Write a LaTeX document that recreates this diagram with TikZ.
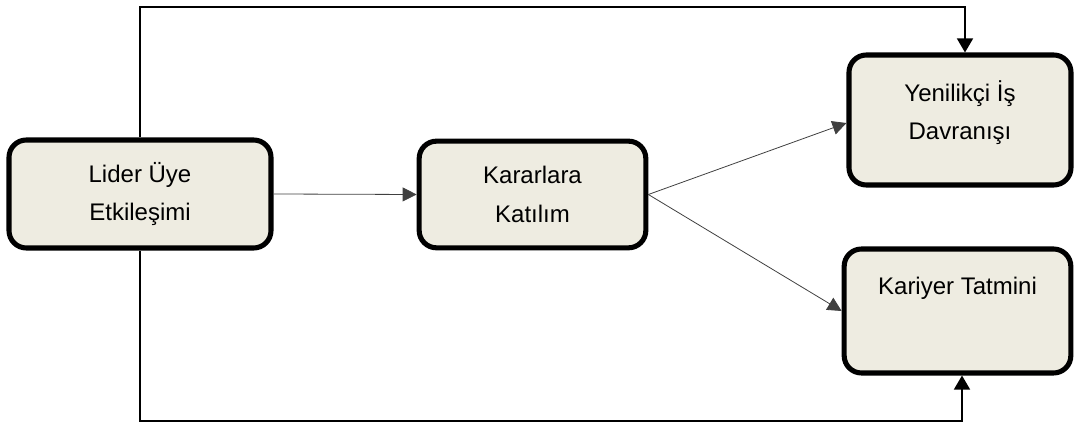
\documentclass[tikz,border=0pt]{standalone}
\usepackage{fontspec}
\setmainfont{Liberation Sans}
\usepackage{xcolor}
\usetikzlibrary{arrows.meta, positioning, calc}
\definecolor{boxtan}{HTML}{EEECE1}
\definecolor{lineGray}{HTML}{404040}

\begin{document}
\begin{tikzpicture}[
  x=0.75pt, y=-0.75pt,
  factor/.style={rectangle, draw=black, line width=3.8pt, fill=boxtan, rounded corners=13pt, align=center, font=\fontsize{18}{29}\selectfont, inner sep=0pt},
  link/.style={-{Triangle[length=10.5pt, width=12pt]}, line width=1.1pt, draw=black},
  thinlink/.style={-{Triangle[length=10.5pt, width=10.5pt]}, line width=0.6pt, draw=lineGray}
]
  \useasboundingbox (0,0) rectangle (1075,423);

  \node[factor, minimum width=196.5pt, minimum height=81pt] (lider) at (140,194) {Lider Üye\\Etkileşimi};
  \node[factor, minimum width=170pt, minimum height=80pt] (karar) at (532.5,194.5) {Kararlara\\Katılım};
  \node[factor, minimum width=166.5pt, minimum height=97.5pt, text depth=15pt] (yenilik) at (960,120) {Yenilikçi İş\\Davranışı};
  \node[factor, minimum width=170pt, minimum height=93pt, text height=13pt, text depth=37pt] (kariyer) at (957.5,311) {Kariyer Tatmini};

  \coordinate (topturn) at (965,7);
  \coordinate (botturn) at (962,421);

  \draw[thinlink] (lider.east) -- (karar.west);
  \draw[thinlink] (karar.east) -- ($(yenilik.west)+(0,3)$);
  \draw[thinlink] (karar.east) -- (kariyer.west);
  \draw[link] (lider.north) |- (topturn) -- (topturn |- yenilik.north);
  \draw[link] (lider.south) |- (botturn) -- (botturn |- kariyer.south);
\end{tikzpicture}
\end{document}
